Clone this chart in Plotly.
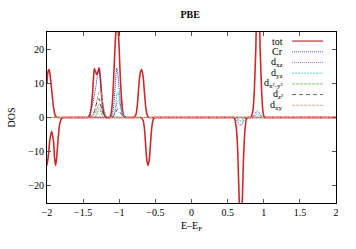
import plotly.graph_objects as go

# ---- data ----
tot_up_x = [-2.0, -1.985, -1.97, -1.955, -1.93, -1.91, -1.89, -1.87, -1.85, -1.83, -1.45, -1.43, -1.41, -1.39, -1.37, -1.355, -1.345, -1.33, -1.31, -1.29, -1.278, -1.265, -1.25, -1.23, -1.21, -1.19, -1.17, -1.15,
            -1.15, -1.13, -1.11, -1.09, -1.07, -1.05, -1.03, -1.01, -0.99, -0.97, -0.95, -0.93, -0.91, -0.89,
            -0.82, -0.80, -0.77, -0.75, -0.73, -0.71, -0.69, -0.67, -0.65, -0.63, -0.61, -0.59, -0.57,
            0.80, 0.82, 0.85, 0.87, 0.89, 0.91, 0.93, 0.95, 0.97, 0.99, 1.01, 1.03, 2.0]
tot_up_y = [10, 13.5, 14, 12, 7, 3, 0.8, 0.1, 0, 0, 0, 0, 0.5, 2.5, 7, 12, 14.3, 13.5, 12.5, 13.8, 14.5, 12.5, 8, 3.5, 1, 0.2, 0, 0,
            0, 0, 1.5, 6, 15, 24, 28, 24, 14, 6, 1.5, 0.3, 0, 0,
            0, 0, 0.8, 3.5, 9, 13, 14, 12, 7, 2.5, 0.5, 0, 0,
            0, 0, 2, 8, 20, 30, 30, 20, 8, 1.5, 0, 0, 0]

tot_dn_x = [-2.0, -1.98, -1.96, -1.935, -1.91, -1.895, -1.88, -1.865, -1.845, -1.825, -1.80, -1.78, -1.76,
            -0.72, -0.70, -0.67, -0.65, -0.63, -0.615, -0.60, -0.585, -0.57, -0.55, -0.53, -0.51, -0.49,
            0.57, 0.59, 0.62, 0.64, 0.66, 0.68, 0.70, 0.72, 0.74, 0.76, 0.78, 0.80, 2.0]
tot_dn_y = [-14, -11, -6.5, -4, -7, -12, -14, -11.5, -6, -2, -0.3, 0, 0,
            0, 0, -0.8, -3.5, -9.5, -13, -14, -12.5, -8.5, -3, -0.6, 0, 0,
            0, 0, -3, -10, -24, -32, -26, -12, -3.5, -0.5, 0, 0, 0]

cr_x = [-2.0, -1.46, -1.44, -1.41, -1.38, -1.35, -1.32, -1.30, -1.28, -1.26, -1.24, -1.22, -1.20, -1.18, -1.16,
        -1.14, -1.12, -1.09, -1.07, -1.05, -1.035, -1.02, -1.00, -0.98, -0.96, -0.94, -0.92, -0.90,
        0.56, 0.58, 0.62, 0.66, 0.69, 0.72, 0.76, 0.78, 0.82, 0.84, 0.88, 0.91, 0.94, 0.98, 1.00, 2.0]
cr_y = [0, 0, 0, 1, 3, 6, 9.5, 12.5, 13.8, 11, 6.5, 2.5, 0.6, 0, 0,
        0, 0, 1.5, 5, 11, 14.5, 13, 8, 3.5, 1, 0.2, 0, 0,
        0, 0, -0.6, -2, -2.2, -1, 0, 0, 0, 0, 1, 2, 1.2, 0, 0, 0]

dxz_x = [-2.0, -1.40, -1.38, -1.33, -1.29, -1.27, -1.25, -1.22, -1.18, -1.16, -1.12, -1.10, -1.06, -1.03, -1.01, -0.98, -0.94, -0.90, -0.88, 2.0]
dxz_y = [0, 0, 0, 1.5, 3.5, 4, 3, 1, 0, 0, 0, 0, 1.5, 4.5, 5, 3, 0.5, 0, 0, 0]

dyz_x = [-2.0, -1.12, -1.10, -1.07, -1.05, -1.035, -1.02, -1.00, -0.98, -0.95, -0.92, -0.90,
         0.58, 0.60, 0.66, 0.69, 0.73, 0.75, 0.83, 0.85, 0.90, 0.92, 0.95, 0.99, 1.01, 2.0]
dyz_y = [0, 0, 0, 1, 3.5, 6.5, 7.5, 6, 3, 0.8, 0, 0,
         0, 0, -0.8, -1, 0, 0, 0, 0, 0.8, 1, 0.5, 0, 0, 0]

dx2y2_x = [-2.0, -1.36, -1.34, -1.31, -1.29, -1.275, -1.26, -1.24, -1.21, -1.19, 2.0]
dx2y2_y = [0, 0, 0, 1, 2.3, 2.8, 2.2, 0.8, 0, 0, 0]

dz2_x = [-2.0, -1.42, -1.40, -1.36, -1.33, -1.30, -1.28, -1.26, -1.23, -1.19, -1.17, -1.12, -1.10, -1.05, -1.02, -0.99, -0.94, -0.92, 2.0]
dz2_y = [0, 0, 0, 1, 3, 5, 5.5, 4, 1.5, 0, 0, 0, 0, 1.5, 2.5, 1.5, 0, 0, 0]

dxy_x = [-2.0, -1.40, -1.38, -1.34, -1.31, -1.28, -1.26, -1.24, -1.21, -1.18, -1.15, -1.13, 2.0]
dxy_y = [0, 0, 0, 2, 5, 7.5, 8, 6, 2.5, 0.5, 0, 0, 0]

x_ticks = [-2, -1.5, -1, -0.5, 0, 0.5, 1, 1.5, 2]
x_tick_text = ["\u22122", "\u22121.5", "\u22121", "\u22120.5", "0", "0.5", "1", "1.5", "2"]
y_ticks = [-20, -10, 0, 10, 20]
y_tick_text = ["\u221220", "\u221210", "0", "10", "20"]

labels = ["tot", "Cr", "d<sub>xz</sub>", "d<sub>yz</sub>", "d<sub>x\u00b2-y\u00b2</sub>", "d<sub>z\u00b2</sub>", "d<sub>xy</sub>"]
colors = ["#cc2a2a", "#3030a0", "#c040c0", "#30c8c8", "#40c040", "#404040", "#c8a070"]
dashes = ["solid", "1px,1px", "1px,1px", "2px,1px", "3px,1px", "4px,3px", "3px,1px"]

series = [
    (tot_up_x, tot_up_y, 0),
    (tot_dn_x, tot_dn_y, 0),
    (cr_x, cr_y, 1),
    (dxz_x, dxz_y, 2),
    (dyz_x, dyz_y, 3),
    (dx2y2_x, dx2y2_y, 4),
    (dz2_x, dz2_y, 5),
    (dxy_x, dxy_y, 6),
]

FONT = "Liberation Serif"
fig = go.Figure()
for xs, ys, k in series:
    fig.add_trace(go.Scatter(
        x=xs, y=ys, mode="lines",
        line=dict(color=colors[k], dash=dashes[k], width=1.6 if k == 0 else 1.0,
                  shape="spline", smoothing=0.6),
        showlegend=False, hoverinfo="skip"))

# gnuplot-style key: right aligned label, sample line to the right
row0 = 0.947
step = 0.0626
for i, (lab, col, dsh) in enumerate(zip(labels, colors, dashes)):
    yy = row0 - i * step
    fig.add_annotation(x=0.822, y=yy, xref="paper", yref="paper", text=lab,
                       showarrow=False, xanchor="right", yanchor="middle",
                       font=dict(family=FONT, size=10, color="black"))
    fig.add_shape(type="line", xref="paper", yref="paper", x0=0.848, x1=0.955, y0=yy, y1=yy,
                  line=dict(color=col, dash=dsh, width=1.2 if i == 0 else 0.8))

fig.update_layout(
    width=356, height=249,
    margin=dict(l=47, r=20, t=32, b=46),
    paper_bgcolor="white", plot_bgcolor="white",
    font=dict(family=FONT, size=10, color="black"),
    title=dict(text="<b>PBE</b>", x=0.534, xanchor="center", y=0.94, yanchor="middle",
               yref="container", automargin=False,
               font=dict(family=FONT, size=10, color="black")),
)
fig.update_xaxes(range=[-2, 2], tickvals=x_ticks, ticktext=x_tick_text, automargin=False,
                 ticks="inside", ticklen=4, tickcolor="#555", mirror="allticks",
                 showline=True, linecolor="black", linewidth=1, showgrid=False, zeroline=False,
                 title=dict(text="E\u2013E<sub>F</sub>", standoff=4, font=dict(family=FONT, size=10)),
                 tickfont=dict(family=FONT, size=10))
fig.update_yaxes(range=[-25, 25], tickvals=y_ticks, ticktext=y_tick_text, automargin=False,
                 ticks="inside", ticklen=4, tickcolor="#555", mirror="allticks",
                 showline=True, linecolor="black", linewidth=1, showgrid=False, zeroline=False,
                 title=dict(text="DOS", standoff=10, font=dict(family=FONT, size=10)),
                 tickfont=dict(family=FONT, size=10))

fig.write_html("out.html", config={"displayModeBar": False},
               post_script="document.body.style.margin='0';document.body.style.overflow='hidden';")
